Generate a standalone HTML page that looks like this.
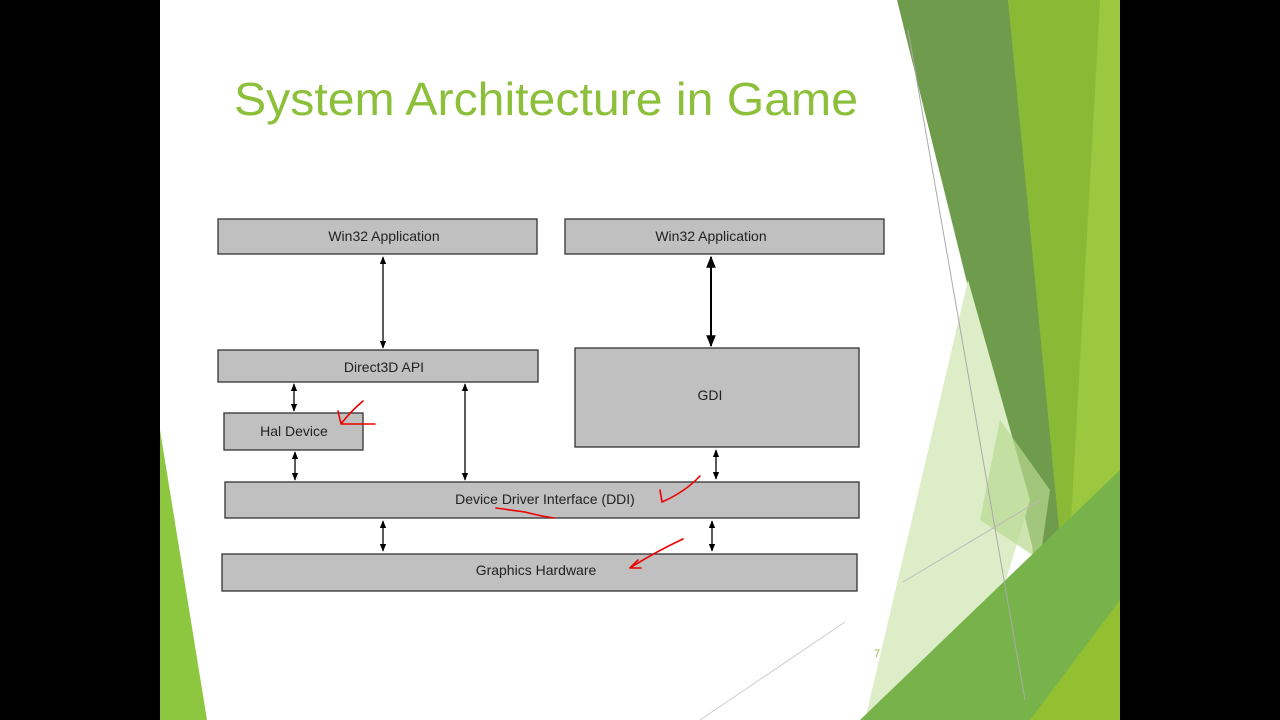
<!DOCTYPE html>
<html><head><meta charset="utf-8"><style>
html,body{margin:0;padding:0;background:#000;}
svg{display:block;}
</style></head><body>
<svg width="1280" height="720" viewBox="0 0 1280 720" xmlns="http://www.w3.org/2000/svg" font-family="'Liberation Sans', sans-serif">
<defs>
<marker id="ah" viewBox="0 0 10 10" refX="9" refY="5" markerWidth="6" markerHeight="6" orient="auto-start-reverse"><path d="M0,1 L10,5 L0,9 z" fill="#000"/></marker>
</defs>
<rect x="0" y="0" width="1280" height="720" fill="#000"/>
<rect x="160" y="0" width="960" height="720" fill="#fff"/>
<polygon points="1008,0 1120,0 1120,720 1040,720" fill="#8ab935"/>
<polygon points="897,0 1008,0 1062,560 1048,610" fill="#6f9c4c"/>
<polygon points="1100,0 1120,0 1120,720 1060,720" fill="#9cc840"/>
<polygon points="968,280 1030,500 1000,600 880,720 865,720" fill="#dcedc8"/>
<polygon points="1000,420 1050,490 1040,560 980,520" fill="#b8d890" opacity="0.7"/>
<polygon points="860,720 1120,470 1120,720" fill="#78b24a"/>
<polygon points="1030,720 1120,600 1120,720" fill="#92c030"/>
<line x1="908" y1="30" x2="1025" y2="700" stroke="#aaa" stroke-width="1"/>
<line x1="903" y1="582" x2="1040" y2="500" stroke="#bbb" stroke-width="1"/>
<line x1="700" y1="720" x2="845" y2="622" stroke="#ccc" stroke-width="1"/>
<polygon points="160,430 207,720 160,720" fill="#8dc63f"/>
<text x="234" y="115" font-size="46" fill="#8cbf3a" textLength="624" lengthAdjust="spacingAndGlyphs">System Architecture in Game</text>
<text x="874" y="657" font-size="11" fill="#8cbf3a">7</text>
<g fill="#c0c0c0" stroke="#333" stroke-width="1.3">
<rect x="218" y="219" width="319" height="35"/>
<rect x="565" y="219" width="319" height="35"/>
<rect x="218" y="350" width="320" height="32"/>
<rect x="575" y="348" width="284" height="99"/>
<rect x="224" y="413" width="139" height="37"/>
<rect x="225" y="482" width="634" height="36"/>
<rect x="222" y="554" width="635" height="37"/>
</g>
<g font-size="14" fill="#222" text-anchor="middle">
<text x="384" y="241">Win32 Application</text>
<text x="711" y="241">Win32 Application</text>
<text x="384" y="372">Direct3D API</text>
<text x="710" y="400">GDI</text>
<text x="294" y="436">Hal Device</text>
<text x="545" y="504">Device Driver Interface (DDI)</text>
<text x="536" y="575">Graphics Hardware</text>
</g>
<g stroke="#000" stroke-width="1.3" marker-start="url(#ah)" marker-end="url(#ah)">
<line x1="383" y1="257" x2="383" y2="348"/>
<line x1="711" y1="257" x2="711" y2="346" stroke-width="2"/>
<line x1="294" y1="384" x2="294" y2="411"/>
<line x1="295" y1="452" x2="295" y2="480"/>
<line x1="465" y1="384" x2="465" y2="480"/>
<line x1="716" y1="450" x2="716" y2="479"/>
<line x1="383" y1="521" x2="383" y2="551"/>
<line x1="712" y1="521" x2="712" y2="551"/>
</g>
<g stroke="#e00" stroke-width="1.6" fill="none" stroke-linecap="round">
<path d="M363,401 Q350,412 341,424 M341,424 L338,411 M341,424 L375,424"/>
<path d="M496,508 Q510,510 525,512 Q540,516 554,518"/>
<path d="M700,476 Q685,492 662,502 M662,502 L660,490"/>
<path d="M683,539 Q655,552 630,568 M630,568 L638,560 M630,568 L641,568"/>
</g>
</svg>
</body></html>
